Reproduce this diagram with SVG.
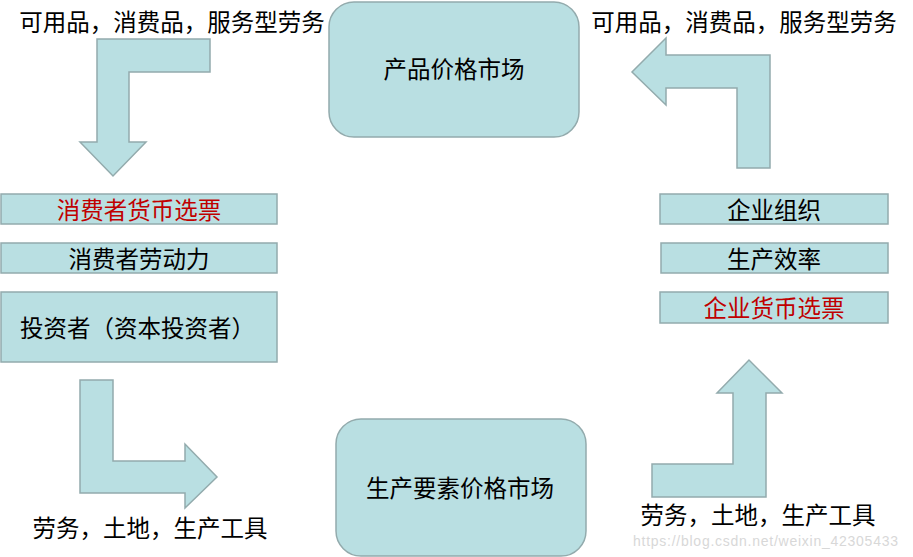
<svg xmlns="http://www.w3.org/2000/svg" width="913" height="557" viewBox="0 0 913 557">
<style>
.shape{fill:#B9DFE2;stroke:#93ABAD;stroke-width:1.5}
.t{font-family:"Noto Sans CJK SC","Noto Sans",sans-serif;font-size:23.5px;fill:#000;dominant-baseline:central}
.c{text-anchor:middle}
.red{fill:#C00000}
.wm{font-family:"Liberation Sans",Arial,sans-serif;font-size:14px;fill:#D8D8D8}
</style>
<rect width="913" height="557" fill="#fff"/>
<g id="connectors">
<polygon class="shape" points="210,39 97,39 97,142 80,142 113,176 146,142 129,142 129,72 210,72"/>
<polygon class="shape" points="737,168 770,168 770,55 666,55 666,38 632,72 666,105 666,88 737,88"/>
<polygon class="shape" points="80,380 113,380 113,461 185,461 185,444 217,477 185,508 185,493 80,493"/>
<polygon class="shape" points="652,497 766,497 766,393 782,393 749,360 717,393 733,393 733,464 652,464"/>
</g>
<g id="label-top-left"><text class="t c" x="172" y="21">可用品，消费品，服务型劳务</text></g>
<g id="label-top-right"><text class="t c" x="744" y="21">可用品，消费品，服务型劳务</text></g>
<g id="label-bottom-left"><text class="t c" x="150" y="527">劳务，土地，生产工具</text></g>
<g id="label-bottom-right"><text class="t c" x="758" y="514">劳务，土地，生产工具</text></g>
<g id="product-market">
<rect class="shape" x="329" y="2" width="250" height="135" rx="25" ry="25"/>
<text class="t c" x="454" y="68">产品价格市场</text>
</g>
<g id="factor-market">
<rect class="shape" x="336" y="419" width="250" height="137" rx="25" ry="25"/>
<text class="t c" x="460" y="487">生产要素价格市场</text>
</g>
<g id="consumer-vote">
<rect class="shape" x="1" y="194" width="276" height="30"/>
<text class="t c red" x="139" y="209">消费者货币选票</text>
</g>
<g id="consumer-labor">
<rect class="shape" x="1" y="243" width="276" height="30"/>
<text class="t c" x="139" y="258">消费者劳动力</text>
</g>
<g id="investor">
<rect class="shape" x="1" y="292" width="276" height="70"/>
<text class="t" x="20" y="327">投资者（资本投资者）</text>
</g>
<g id="firm-org">
<rect class="shape" x="660" y="194" width="228" height="30"/>
<text class="t c" x="774" y="209">企业组织</text>
</g>
<g id="efficiency">
<rect class="shape" x="661" y="243" width="227" height="30"/>
<text class="t c" x="774" y="258">生产效率</text>
</g>
<g id="firm-vote">
<rect class="shape" x="660" y="292" width="228" height="31"/>
<text class="t c red" x="774" y="307">企业货币选票</text>
</g>
<text class="wm" x="633" y="546" textLength="265">https://blog.csdn.net/weixin_42305433</text>
</svg>
